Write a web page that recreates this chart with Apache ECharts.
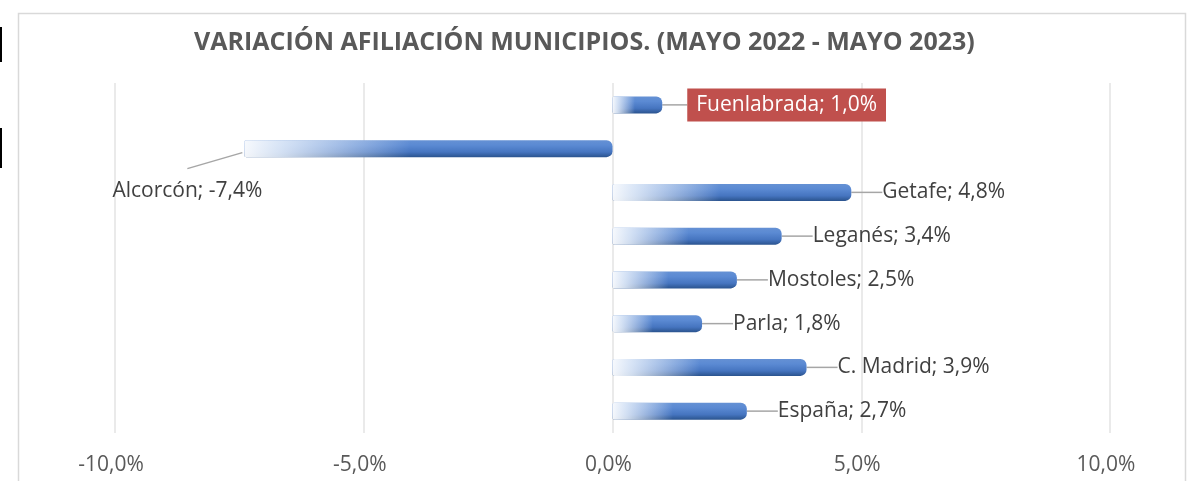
<!DOCTYPE html>
<html>
<head>
<meta charset="utf-8">
<script src="https://cdn.jsdelivr.net/npm/echarts@6/dist/echarts.min.js"></script>
<style>
  html, body { margin: 0; padding: 0; background: #fff; }
  #chart { width: 1193px; height: 481px; }
</style>
</head>
<body>
<div id="chart"></div>
<script>
// datos
const municipios = ['Fuenlabrada', 'Alcorcón', 'Getafe', 'Leganés', 'Mostoles', 'Parla', 'C. Madrid', 'España']
const variacion = [1.0, -7.4, 4.8, 3.4, 2.5, 1.8, 3.9, 2.7]
const xTicks = [-10, -5, 0, 5, 10]

const fmt = v => v.toFixed(1).replace('.', ',') + '%'

// cilindro: sombreado vertical
const cylinder = {
  type: 'linear', x: 0, y: 0, x2: 0, y2: 1,
  colorStops: [
    { offset: 0, color: '#6591d4' },
    { offset: 0.3, color: '#5b8ad3' },
    { offset: 0.7, color: '#4675c0' },
    { offset: 1, color: '#2b548f' }
  ]
}
// degradado a blanco en el extremo izquierdo
const fade = {
  type: 'linear', x: 0, y: 0, x2: 1, y2: 0,
  colorStops: [
    { offset: 0, color: 'rgba(255,255,255,0.95)' },
    { offset: 0.1, color: 'rgba(236,243,252,0.85)' },
    { offset: 0.45, color: 'rgba(255,255,255,0)' },
    { offset: 1, color: 'rgba(255,255,255,0)' }
  ]
}

const chart = echarts.init(document.getElementById('chart'))

const seriesData = variacion.map((v, i) => {
  const item = { value: v, name: municipios[i] }
  if (municipios[i] === 'Fuenlabrada') {
    item.label = {
      backgroundColor: '#c0504d',
      color: '#fff',
      padding: [7, 9, 5, 9],
      distance: 25
    }
  }
  if (v < 0) {
    item.label = { position: 'left', distance: 0, padding: 0 }
    item.labelLine = { show: false }
  }
  return item
})

chart.setOption({
  title: {
    text: 'VARIACIÓN AFILIACIÓN MUNICIPIOS. (MAYO 2022 - MAYO 2023)',
    left: 189,
    top: 25,
    textStyle: {
      fontFamily: 'Open Sans',
      fontWeight: 'bold',
      fontSize: 25,
      color: '#595959'
    }
  },
  graphic: [
    { id: 'marco', type: 'rect', shape: { x: 18.5, y: 13.5, width: 1167, height: 480 }, style: { fill: 'none', stroke: '#d9d9d9', lineWidth: 1.5 } },
    { id: 'm1', type: 'rect', shape: { x: 0, y: 27, width: 2, height: 35 }, style: { fill: '#000' } },
    { id: 'm2', type: 'rect', shape: { x: 0, y: 128, width: 2, height: 40 }, style: { fill: '#000' } }
  ],
  grid: { left: 115, right: 83, top: 83, bottom: 48 },
  xAxis: {
    type: 'value',
    min: xTicks[0],
    max: xTicks[xTicks.length - 1],
    interval: 5,
    axisLine: { show: false },
    axisTick: { show: false },
    splitLine: { lineStyle: { color: '#e3e3e3', width: 1.5 } },
    axisLabel: {
      formatter: fmt,
      fontFamily: 'Open Sans',
      fontSize: 21,
      color: '#595959',
      margin: 22,
      padding: [0, 8, 0, 0]
    }
  },
  yAxis: {
    type: 'category',
    data: municipios,
    inverse: true,
    show: false
  },
  series: [{
    type: 'bar',
    data: seriesData,
    barWidth: 17,
    z: 2,
    itemStyle: {
      color: cylinder,
      borderRadius: [2, 6, 6, 2]
    },
    label: {
      show: true,
      position: 'right',
      distance: 25,
      padding: [0, 0, 0, 6],
      fontFamily: 'Open Sans',
      fontSize: 21,
      color: '#404040',
      formatter: p => p.name + '; ' + fmt(p.value)
    },
    labelLine: {
      show: true,
      lineStyle: { color: '#a6a6a6', width: 1.5 }
    },
    labelLayout: p => (variacion[p.dataIndex] < 0 ? { dx: 18, dy: 42 } : {})
  }, {
    type: 'bar',
    data: variacion,
    barWidth: 17,
    barGap: '-100%',
    z: 3,
    silent: true,
    itemStyle: {
      color: fade,
      borderRadius: [2, 6, 6, 2]
    }
  }]
})

// línea guía de Alcorcón, calculada desde la escala
const guias = []
variacion.forEach((v, i) => {
  if (v >= 0) return
  const p = chart.convertToPixel({ xAxisIndex: 0, yAxisIndex: 0 }, [v, i])
  guias.push({
    id: 'guia' + i,
    type: 'polyline',
    z: 10,
    shape: { points: [[p[0] - 2, p[1] + 4], [p[0] - 57, p[1] + 20]] },
    style: { stroke: '#a6a6a6', lineWidth: 1.5, fill: null }
  })
})
chart.setOption({ graphic: guias })
</script>
</body>
</html>
